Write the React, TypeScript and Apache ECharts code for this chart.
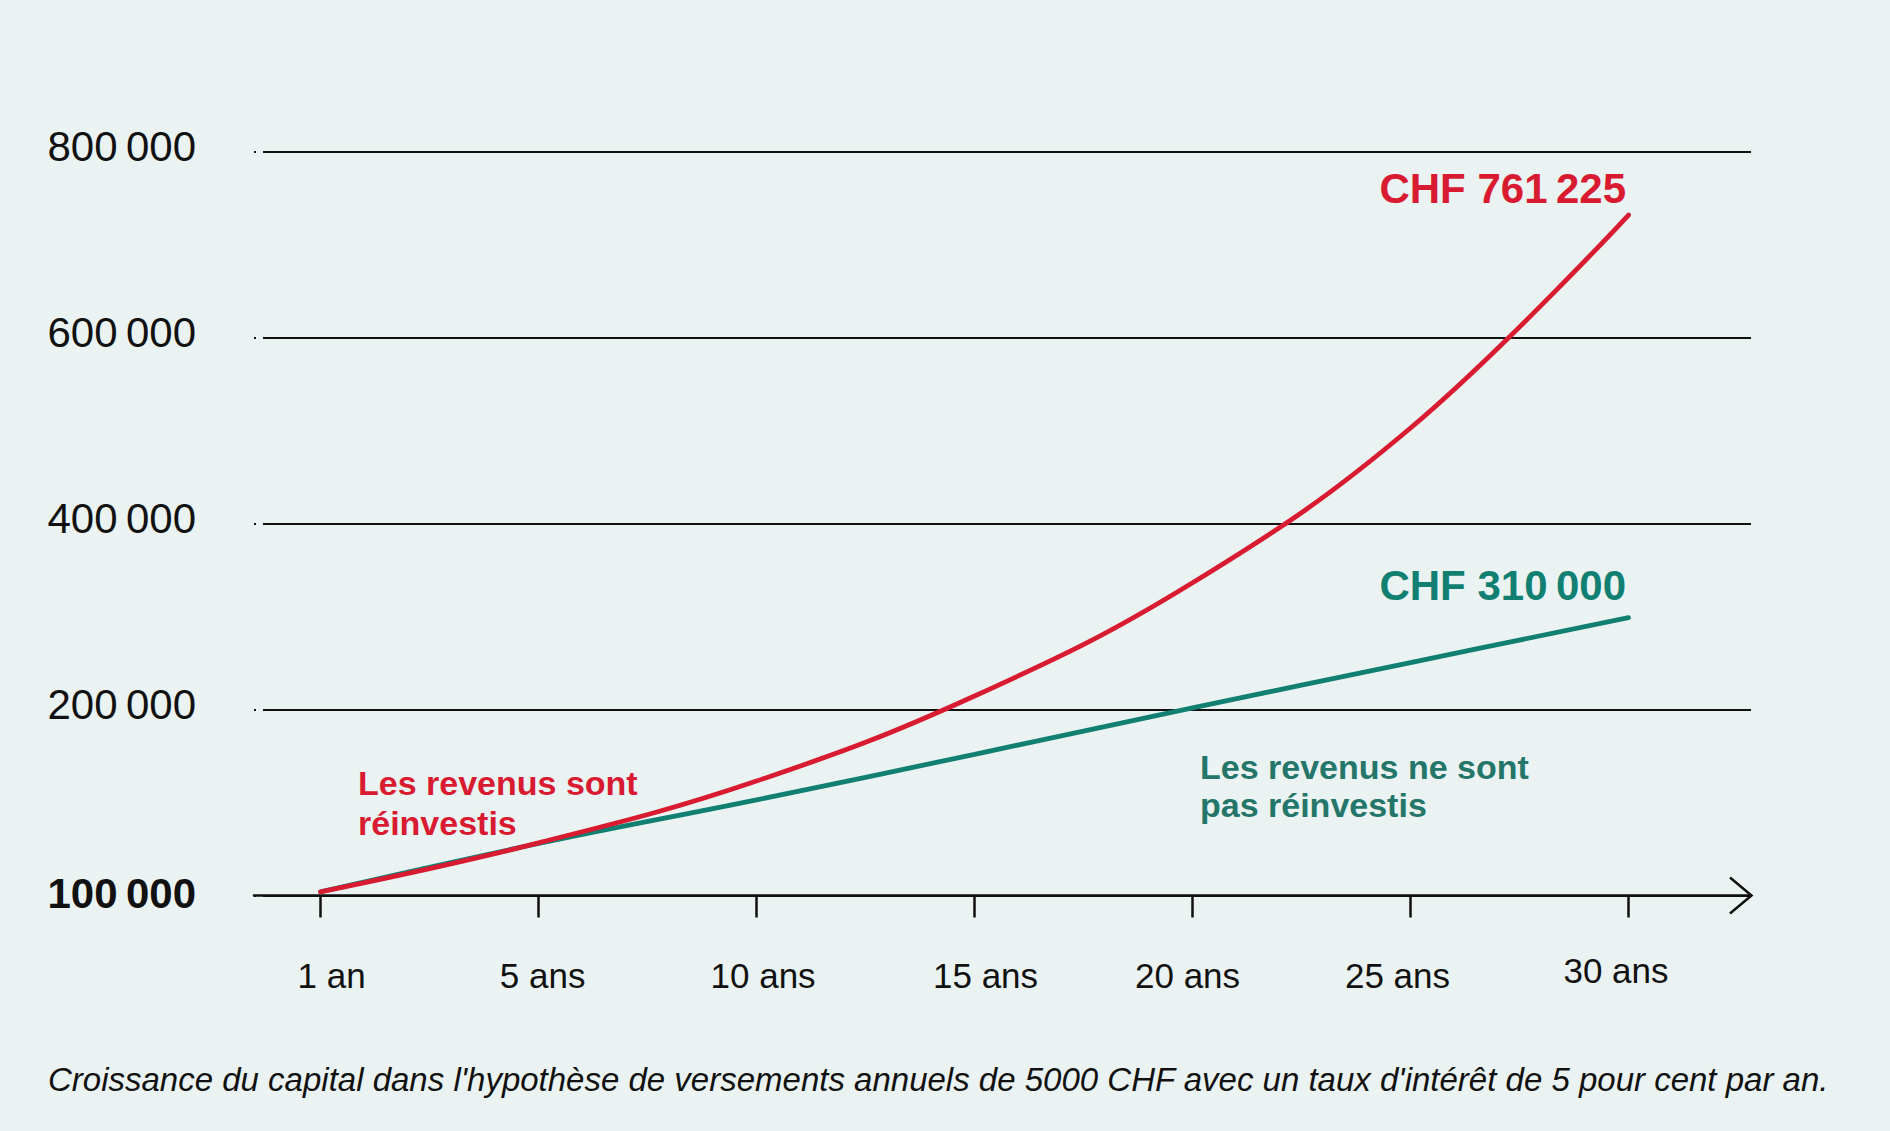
import React, { useEffect, useRef } from 'react';
import * as echarts from 'echarts';

// ---- data ----
const years = ['1 an', '5 ans', '10 ans', '15 ans', '20 ans', '25 ans', '30 ans'];
const reinvested = [4000, 56600, 123100, 214500, 336300, 502700, 731700];
const notReinvested = [4000, 55900, 102800, 151800, 201700, 250500, 298700];
const yTickValues = [0, 200000, 400000, 600000, 800000];
const yTickLabels = ['100\u2009000', '200\u2009000', '400\u2009000', '600\u2009000', '800\u2009000'];
const reinvestedEndLabel = 'CHF 761\u2009225';
const notReinvestedEndLabel = 'CHF 310\u2009000';
const reinvestedName = 'Les revenus sont\nréinvestis';
const notReinvestedName = 'Les revenus ne sont\npas réinvestis';
const caption =
  "Croissance du capital dans l'hypothèse de versements annuels de 5000 CHF avec un taux d'intérêt de 5 pour cent par an.";

// ---- layout / style ----
const W = 1890;
const H = 1131;
const FONT = '"Liberation Sans", Arial, Helvetica, sans-serif';
const BG = '#eaf3f1';
const RED = '#d81b31';
const GREEN = '#117f71';
const GREEN_TEXT = '#24766a';
const INK = '#111111';
const GRID_TOP = 151.5;
const GRID_H = 744;
const AXIS_L = 254;
const AXIS_R = 1751;
const CAT_L = 320.6;
const CAT_R = 1628.5;
// per-label nudges of the x labels: [dx, dy] in px
const labelShift: number[][] = [[11, 0], [4, 0], [6.5, 0], [11, 0], [-5, 0], [-13, 0], [-12.5, -5]];

export default function App() {
  const ref = useRef<HTMLDivElement>(null);

  useEffect(() => {
    document.body.style.margin = '0';
    const chart = echarts.init(ref.current!, null, { renderer: 'svg', width: W, height: H });
    const bottom = H - GRID_TOP - GRID_H;

    const rich: Record<string, any> = {};
    labelShift.forEach(([dx, dy], i) => {
      rich['l' + i] = {
        fontFamily: FONT,
        fontSize: 35,
        color: INK,
        padding: [5 + dy, dx < 0 ? -2 * dx : 0, 0, dx > 0 ? 2 * dx : 0],
      };
    });

    chart.setOption({
      animation: false,
      backgroundColor: BG,
      grid: [
        { left: AXIS_L, right: W - AXIS_R, top: GRID_TOP, bottom },
        { left: CAT_L, right: W - CAT_R, top: GRID_TOP, bottom },
      ],
      xAxis: [
        {
          type: 'value',
          gridIndex: 0,
          min: 0,
          max: 1,
          axisLine: { show: true, lineStyle: { color: INK, width: 2.5 } },
          axisTick: { show: false },
          axisLabel: { show: false },
          splitLine: { show: false },
        },
        {
          type: 'category',
          gridIndex: 1,
          data: years,
          boundaryGap: false,
          axisLine: { show: false },
          axisTick: { show: true, length: 22, lineStyle: { color: INK, width: 2.5 } },
          axisLabel: {
            margin: 57,
            formatter: (v: string, i: number) => `{l${i}|${v}}`,
            rich,
          },
          splitLine: { show: false },
        },
      ],
      yAxis: [
        {
          type: 'value',
          gridIndex: 0,
          min: 0,
          max: 800000,
          interval: 200000,
          axisLine: { show: false },
          axisTick: { show: false },
          splitLine: {
            show: true,
            lineStyle: { color: INK, width: 2, type: [2, 7, 3000] },
          },
          axisLabel: {
            margin: 58,
            formatter: (v: number) => {
              const i = yTickValues.indexOf(v);
              const t = i >= 0 ? yTickLabels[i] : '';
              return v === 0 ? `{b|${t}}` : `{n|${t}}`;
            },
            rich: {
              n: { fontFamily: FONT, fontSize: 42, color: INK, padding: [0, 0, 10, 0] },
              b: { fontFamily: FONT, fontSize: 42, fontWeight: 'bold', color: INK, padding: [0, 0, 4, 0] },
            },
          },
        },
        { type: 'value', gridIndex: 1, min: 0, max: 800000, show: false },
      ],
      series: [
        {
          type: 'line',
          name: 'non réinvestis',
          xAxisIndex: 1,
          yAxisIndex: 1,
          data: notReinvested,
          smooth: 0.4,
          symbol: 'none',
          lineStyle: { color: GREEN, width: 4.8, cap: 'round' },
          clip: false,
        },
        {
          type: 'line',
          name: 'réinvestis',
          xAxisIndex: 1,
          yAxisIndex: 1,
          data: reinvested,
          smooth: 0.4,
          symbol: 'none',
          lineStyle: { color: RED, width: 4.8, cap: 'round' },
          clip: false,
        },
      ],
    });

    const last = years.length - 1;
    const pR = chart.convertToPixel({ gridIndex: 1 }, [last, reinvested[last]]) as number[];
    const pG = chart.convertToPixel({ gridIndex: 1 }, [last, notReinvested[last]]) as number[];
    const axisY = GRID_TOP + GRID_H;

    chart.setOption({
      graphic: [
        {
          type: 'polyline',
          shape: { points: [[AXIS_R - 21, axisY - 18], [AXIS_R + 0.5, axisY], [AXIS_R - 21, axisY + 18]] },
          style: { stroke: INK, lineWidth: 2.5, fill: 'none' },
        },
        {
          type: 'text',
          x: pR[0] - 2.5,
          y: pR[1] - 27,
          style: {
            text: reinvestedEndLabel,
            font: `bold 42px ${FONT}`,
            fill: RED,
            align: 'right',
            verticalAlign: 'middle',
          },
        },
        {
          type: 'text',
          x: pG[0] - 2.5,
          y: pG[1] - 32.5,
          style: {
            text: notReinvestedEndLabel,
            font: `bold 42px ${FONT}`,
            fill: GREEN,
            align: 'right',
            verticalAlign: 'middle',
          },
        },
        {
          type: 'text',
          x: 358,
          y: 763,
          style: {
            text: reinvestedName,
            font: `bold 34px ${FONT}`,
            lineHeight: 40,
            fill: RED,
            align: 'left',
            verticalAlign: 'top',
          },
        },
        {
          type: 'text',
          x: 1200,
          y: 747.5,
          style: {
            text: notReinvestedName,
            font: `bold 34px ${FONT}`,
            lineHeight: 38.5,
            fill: GREEN_TEXT,
            align: 'left',
            verticalAlign: 'top',
          },
        },
        {
          type: 'text',
          x: 48,
          y: 1079,
          style: {
            text: caption,
            font: `italic 33px ${FONT}`,
            fill: INK,
            align: 'left',
            verticalAlign: 'middle',
          },
        },
      ],
    });

    return () => chart.dispose();
  }, []);

  return (
    <div
      ref={ref}
      style={{ position: 'absolute', left: 0, top: 0, width: W, height: H, background: BG }}
    />
  );
}
